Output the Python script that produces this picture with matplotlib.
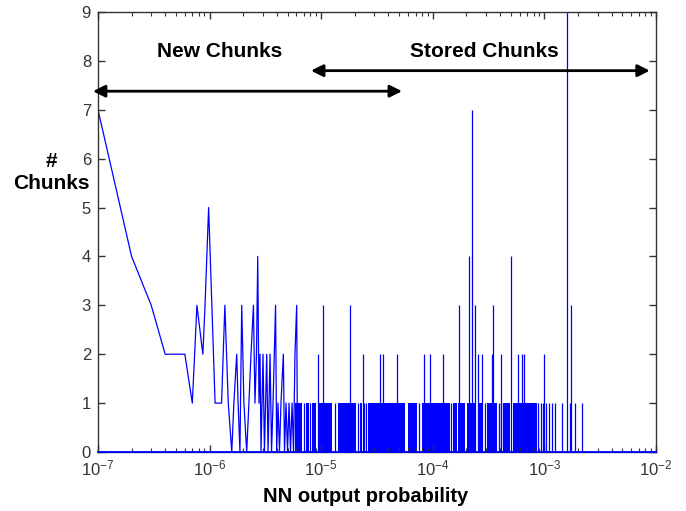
import matplotlib
matplotlib.use('Agg')
import matplotlib.pyplot as plt
from matplotlib.ticker import NullFormatter, LogLocator

plt.rcParams['font.family'] = ['Liberation Sans', 'DejaVu Sans']
plt.rcParams['mathtext.fontset'] = 'custom'
plt.rcParams['mathtext.rm'] = 'Liberation Sans'
plt.rcParams['mathtext.default'] = 'regular'

# continuous part of the curve (probability, count)
left_p = [1e-7, 2e-7, 3e-7, 4e-7, 5e-7, 6e-7, 7e-7, 7.7e-7, 8.7e-7, 9.1e-7,
          9.8e-7, 1.12e-6, 1.28e-6, 1.37e-6, 1.47e-6, 1.58e-6, 1.65e-6, 1.75e-6, 1.80e-6, 1.87e-6,
          1.94e-6, 2.03e-6, 2.15e-6, 2.25e-6, 2.35e-6, 2.47e-6, 2.55e-6, 2.63e-6, 2.70e-6, 2.77e-6,
          2.83e-6, 2.89e-6, 3.01e-6, 3.10e-6, 3.25e-6, 3.34e-6, 3.48e-6, 3.59e-6, 3.70e-6, 3.80e-6,
          3.90e-6, 3.99e-6, 4.10e-6, 4.23e-6, 4.36e-6, 4.58e-6, 4.69e-6, 4.84e-6, 4.99e-6, 5.15e-6,
          5.31e-6, 5.48e-6, 5.65e-6, 5.82e-6, 6.03e-6, 6.13e-6]
left_n = [7, 4, 3, 2, 2, 2, 1, 3, 2, 3,
          5, 1, 1, 3, 1, 0, 1, 2, 1, 0,
          3, 1, 0, 1, 2, 3, 1, 2, 4, 1,
          2, 0, 2, 0, 2, 0, 2, 0, 1, 2,
          3, 0, 1, 0, 1, 2, 0, 1, 0, 1,
          0, 1, 0, 2, 3, 0]

# ranges where the count flips 0/1 so densely the area looks solid
band_lo = [5.82e-6, 7.31e-6, 8.27e-6, 9.36e-6, 1.41e-5, 2.23e-5, 2.63e-5, 6.0e-5,
           8.0e-5, 1.52e-4, 1.68e-4, 2.03e-4, 2.54e-4, 3.06e-4, 4.26e-4, 5.23e-4]
band_hi = [6.73e-6, 7.78e-6, 8.98e-6, 1.25e-5, 2.05e-5, 2.32e-5, 5.64e-5, 7.22e-5,
           1.43e-4, 1.65e-4, 1.94e-4, 2.39e-4, 2.82e-4, 3.76e-4, 4.92e-4, 8.58e-4]

# isolated single chunks
one_p = [7.01e-6, 7.94e-6, 1.33e-5, 2.14e-5, 2.42e-5, 2.52e-5, 7.52e-5, 1.46e-4,
         2.94e-4, 3.92e-4, 4.09e-4, 8.76e-4, 9.32e-4, 9.71e-4, 1.03e-3, 1.10e-3,
         1.17e-3, 1.25e-3, 1.43e-3, 1.70e-3, 1.88e-3, 2.16e-3]

# taller peaks
peak_p = [9.42e-6, 1.04e-5, 1.81e-5, 2.38e-5, 3.37e-5, 3.56e-5, 4.75e-5, 8.34e-5,
          9.44e-5, 1.24e-4, 1.72e-4, 2.12e-4, 2.26e-4, 2.39e-4, 2.56e-4, 2.74e-4,
          3.37e-4, 3.48e-4, 4.09e-4, 5.02e-4, 5.84e-4, 6.34e-4, 6.57e-4, 9.92e-4,
          1.58e-3, 1.73e-3]
peak_n = [2, 3, 3, 2, 2, 2, 2, 2,
          2, 2, 3, 4, 7, 3, 2, 2,
          2, 3, 2, 4, 2, 2, 2, 2,
          10, 3]

xticks = [1e-7, 1e-6, 1e-5, 1e-4, 1e-3, 1e-2]
xtick_labels = [r'$10^{-7}$', r'$10^{-6}$', r'$10^{-5}$', r'$10^{-4}$', r'$10^{-3}$', r'$10^{-2}$']

blue = '#0000ff'
fig = plt.figure(figsize=(6.86, 5.11), dpi=100)
ax = fig.add_axes([98 / 686, 59 / 511, 558 / 686, 440 / 511])
ax.set_xscale('log')

ax.plot(left_p, left_n, color=blue, lw=0.9)
for lo, hi in zip(band_lo, band_hi):
    ax.fill_between([lo, hi], 0, 1, color=blue, lw=0)
ax.vlines(one_p, 0, 1, color=blue, lw=0.9)
ax.vlines(peak_p, 0, peak_n, color=blue, lw=0.9)
ax.axhline(0, color=blue, lw=1.3, zorder=5, clip_on=False)

ax.set_xlim(1e-7, 1e-2)
ax.set_ylim(0, 9)
ax.set_xticks(xticks)
ax.set_xticklabels(xtick_labels)
ax.xaxis.set_minor_locator(LogLocator(base=10, subs=range(2, 10)))
ax.xaxis.set_minor_formatter(NullFormatter())
ax.set_yticks(range(0, 10))

ax.tick_params(which='both', direction='in', top=True, right=True,
               colors='#333333', labelsize=12)
ax.tick_params(which='major', length=5, width=1)
ax.tick_params(which='minor', length=3, width=0.8)
ax.tick_params(axis='x', pad=5)
ax.tick_params(axis='y', pad=5)
for s in ax.spines.values():
    s.set_color('#333333')
    s.set_linewidth(1)

ax.set_xlabel('NN output probability', fontsize=14.5, fontweight='bold', va='center')
ax.xaxis.set_label_coords(0.48, -0.1)
ax.set_ylabel('#\nChunks', fontsize=15, fontweight='bold', rotation=0,
              ha='center', va='center')
ax.yaxis.set_label_coords(-0.084, 0.636)

# annotation arrows and captions
arrow = dict(arrowstyle='<|-|>,head_length=0.6,head_width=0.3', lw=2,
             color='black', mutation_scale=12, shrinkA=0, shrinkB=0)
ax.annotate('', xy=(5.3e-5, 7.38), xytext=(9.0e-8, 7.38),
            arrowprops=arrow, annotation_clip=False)
ax.annotate('', xy=(8.8e-3, 7.8), xytext=(8.1e-6, 7.8),
            arrowprops=arrow, annotation_clip=False)
ax.text(1.24e-6, 8.2, 'New Chunks', fontsize=15, fontweight='bold',
        ha='center', va='center')
ax.text(2.9e-4, 8.2, 'Stored Chunks', fontsize=15, fontweight='bold',
        ha='center', va='center')

fig.savefig('out.png', dpi=100)
